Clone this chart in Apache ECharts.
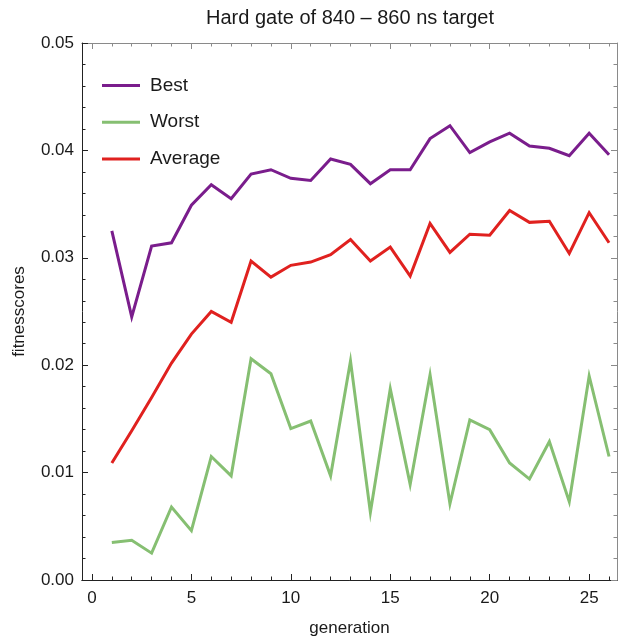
<!DOCTYPE html>
<html>
<head>
<meta charset="utf-8">
<script src="https://cdn.jsdelivr.net/npm/echarts@6/dist/echarts.min.js"></script>
<style>
  html, body { margin: 0; padding: 0; background: #ffffff; }
  #chart { width: 618px; height: 642px; }
</style>
</head>
<body>
<div id="chart"></div>
<script>
// Fitness scores per generation of the genetic search
const generations = [1, 2, 3, 4, 5, 6, 7, 8, 9, 10, 11, 12, 13, 14, 15, 16, 17, 18, 19, 20, 21, 22, 23, 24, 25, 26];
const best = [0.0325, 0.0245, 0.0311, 0.0314, 0.0349, 0.0368, 0.0355, 0.0378, 0.0382, 0.0374, 0.0372, 0.0392, 0.0387, 0.0369, 0.0382, 0.0382, 0.0411, 0.0423, 0.0398, 0.0408, 0.0416, 0.0404, 0.0402, 0.0395, 0.0416, 0.0396];
const worst = [0.0035, 0.0037, 0.0025, 0.0068, 0.0046, 0.0115, 0.0097, 0.0206, 0.0192, 0.0141, 0.0148, 0.0097, 0.0204, 0.0063, 0.0178, 0.0089, 0.0191, 0.0071, 0.0149, 0.0140, 0.0109, 0.0094, 0.0129, 0.0073, 0.0190, 0.0115];
const average = [0.0109, 0.0139, 0.0170, 0.0202, 0.0229, 0.0250, 0.0240, 0.0297, 0.0282, 0.0293, 0.0296, 0.0303, 0.0317, 0.0297, 0.0310, 0.0283, 0.0332, 0.0305, 0.0322, 0.0321, 0.0344, 0.0333, 0.0334, 0.0304, 0.0342, 0.0314];

const xMajorTicks = [0, 5, 10, 15, 20, 25];
const xMinorTicks = [1, 2, 3, 4, 6, 7, 8, 9, 11, 12, 13, 14, 16, 17, 18, 19, 21, 22, 23, 24, 26];

const FONT = '"Liberation Sans", Arial, sans-serif';
const TEXT = '#1a1a1a';
const DARK = '#222222';
const LIGHT = '#8a8a8a';

const pairs = (ys) => generations.map((g, i) => [g, ys[i]]);

function xAxis(pos, ticks, len, color, withLabels) {
  return {
    type: 'value', position: pos, min: -0.5, max: 26.4,
    axisLine: { show: true, onZero: false, lineStyle: { color: color, width: 1 } },
    axisTick: { show: true, inside: true, length: len, customValues: ticks, lineStyle: { color: color } },
    axisLabel: withLabels
      ? { show: true, customValues: xMajorTicks, fontSize: 17, fontFamily: FONT, color: TEXT, margin: 10 }
      : { show: false },
    splitLine: { show: false }
  };
}

function yAxis(pos, color, withLabels) {
  return {
    type: 'value', position: pos, min: 0, max: 0.05, interval: 0.01,
    axisLine: { show: true, onZero: false, lineStyle: { color: color, width: 1 } },
    axisTick: { show: true, inside: true, length: 6, lineStyle: { color: color } },
    minorTick: { show: true, splitNumber: 5, length: 3.5, lineStyle: { color: color } },
    axisLabel: withLabels
      ? { show: true, fontSize: 17, fontFamily: FONT, color: TEXT, margin: 8,
          formatter: (v) => v.toFixed(2) }
      : { show: false },
    splitLine: { show: false },
    minorSplitLine: { show: false }
  };
}

const chart = echarts.init(document.getElementById('chart'), null, { renderer: 'canvas' });

const bottomMajor = xAxis('bottom', xMajorTicks, 6, DARK, true);
bottomMajor.name = 'generation';
bottomMajor.nameLocation = 'middle';
bottomMajor.nameGap = 40;
bottomMajor.nameTextStyle = { fontSize: 17, fontFamily: FONT, color: TEXT };

const leftY = yAxis('left', DARK, true);
leftY.name = 'fitnesscores';
leftY.nameLocation = 'middle';
leftY.nameGap = 54;
leftY.nameTextStyle = { fontSize: 17, fontFamily: FONT, color: TEXT };

const lineSeries = (name, ys, color) => ({
  name: name, type: 'line', xAxisIndex: 0, yAxisIndex: 0,
  data: pairs(ys), symbol: 'none', silent: true,
  lineStyle: { color: color, width: 3, join: 'miter' },
  itemStyle: { color: color }
});

chart.setOption({
  animation: false,
  backgroundColor: '#ffffff',
  title: {
    text: 'Hard gate of 840 – 860 ns target',
    left: 345, top: 3, textAlign: 'center',
    textStyle: { fontSize: 20, fontWeight: 'normal', fontFamily: FONT, color: TEXT }
  },
  grid: { left: 82, right: 1, top: 43, bottom: 61, containLabel: false },
  legend: {
    orient: 'vertical', left: 102, top: 76, padding: 0,
    itemWidth: 38, itemHeight: 3, itemGap: 17.7,
    icon: 'rect',
    textStyle: { fontSize: 19, fontFamily: FONT, color: TEXT, padding: [0, 0, 0, 5] },
    data: ['Best', 'Worst', 'Average']
  },
  xAxis: [
    bottomMajor,
    xAxis('bottom', xMinorTicks, 3.5, DARK, false),
    xAxis('top', xMajorTicks, 6, LIGHT, false),
    xAxis('top', xMinorTicks, 3.5, LIGHT, false)
  ],
  yAxis: [leftY, yAxis('right', LIGHT, false)],
  series: [
    lineSeries('Worst', worst, '#86bf72'),
    lineSeries('Average', average, '#e0211f'),
    lineSeries('Best', best, '#7a1d8c')
  ]
});
</script>
</body>
</html>
